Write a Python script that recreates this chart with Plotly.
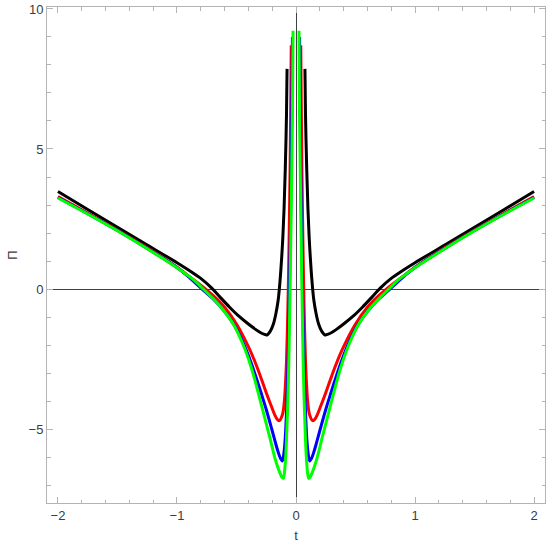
import plotly.graph_objects as go

# Right half of each curve (t > 0); the left half is the mirror image
t_black = [0.075, 0.08, 0.09, 0.1, 0.11, 0.12, 0.134, 0.15, 0.17, 0.19, 0.215, 0.244, 0.27, 0.3, 0.34,
           0.4, 0.48, 0.56, 0.64, 0.71, 0.8, 0.9, 1.0, 1.25, 1.5, 1.75, 2.0]
p_black = [7.86, 6.2, 4.3, 2.9, 1.9, 1.15, 0.3, -0.4, -0.9, -1.25, -1.5, -1.64, -1.61, -1.55, -1.44,
           -1.25, -0.97, -0.64, -0.28, 0.04, 0.38, 0.67, 0.94, 1.57, 2.2, 2.84, 3.48]

t_red = [0.04, 0.045, 0.05, 0.055, 0.06, 0.065, 0.072, 0.08, 0.09, 0.1, 0.115, 0.14, 0.16, 0.18, 0.21,
         0.25, 0.29, 0.34, 0.4, 0.5, 0.6, 0.7, 0.8, 0.9, 1.0, 1.25, 1.5, 1.75, 2.0]
p_red = [8.7, 6.2, 4.2, 2.6, 1.2, 0.0, -1.4, -2.6, -3.5, -4.1, -4.5, -4.7, -4.64, -4.48, -4.15,
         -3.7, -3.22, -2.65, -2.06, -1.25, -0.65, -0.22, 0.14, 0.46, 0.78, 1.47, 2.11, 2.71, 3.3]

t_blue = [0.03, 0.035, 0.04, 0.045, 0.05, 0.055, 0.062, 0.07, 0.08, 0.09, 0.1, 0.115, 0.13, 0.15, 0.175,
          0.205, 0.25, 0.29, 0.33, 0.38, 0.44, 0.52, 0.6, 0.7, 0.8, 0.9, 1.0, 1.25, 1.5, 1.75, 2.0]
p_blue = [9.0, 6.3, 4.3, 2.7, 1.3, 0.0, -1.7, -3.2, -4.4, -5.3, -5.8, -6.14, -6.05, -5.82, -5.45,
          -4.98, -4.3, -3.75, -3.22, -2.6, -1.95, -1.28, -0.8, -0.34, 0.04, 0.43, 0.77, 1.45, 2.09, 2.69, 3.27]

t_green = [0.025, 0.03, 0.035, 0.04, 0.045, 0.05, 0.055, 0.06, 0.07, 0.08, 0.09, 0.1, 0.107, 0.115, 0.13,
           0.15, 0.176, 0.2, 0.22, 0.246, 0.29, 0.33, 0.38, 0.443, 0.52, 0.611, 0.7, 0.78, 0.85, 0.92,
           1.0, 1.25, 1.5, 1.75, 2.0]
p_green = [9.22, 6.3, 4.5, 2.9, 1.4, 0.0, -1.3, -2.5, -4.2, -5.4, -6.2, -6.65, -6.76, -6.74, -6.62,
           -6.4, -6.05, -5.65, -5.3, -4.88, -4.15, -3.5, -2.75, -2.0, -1.3, -0.75, -0.33, 0.0, 0.29, 0.52,
           0.76, 1.44, 2.08, 2.68, 3.25]

x_ticks = [-2, -1, 0, 1, 2]
y_ticks = [-5, 0, 5, 10]

FRAME = "#b4b4b4"
TEXT = "#3c3c3c"
FONT = "Liberation Sans, Arial"


def both_sides(ts, ps):
    """Mirror the right half onto t < 0, with a gap at the singularity."""
    xs = [-t for t in reversed(ts)] + [None] + list(ts)
    ys = list(reversed(ps)) + [None] + list(ps)
    return xs, ys


def minus(v):
    return str(v).replace("-", "\u2212")


fig = go.Figure()
for ts, ps, color in [(t_black, p_black, "black"),
                      (t_red, p_red, "#ff0000"),
                      (t_blue, p_blue, "#0000ff"),
                      (t_green, p_green, "#00ff00")]:
    xs, ys = both_sides(ts, ps)
    fig.add_trace(go.Scatter(x=xs, y=ys, mode="lines", connectgaps=False,
                             line=dict(color=color, width=3, shape="spline", smoothing=1.0),
                             showlegend=False, hoverinfo="skip"))

axis_common = dict(showline=True, mirror="ticks", linecolor=FRAME, linewidth=1,
                   ticks="inside", ticklen=6, tickcolor=FRAME, tickwidth=1,
                   showgrid=False, zeroline=True, zerolinecolor="#404040", zerolinewidth=1,
                   automargin=False,
                   tickfont=dict(family=FONT, size=13, color=TEXT),
                   title_font=dict(family=FONT, size=13, color=TEXT))

fig.update_xaxes(range=[-2.092, 2.092], tickvals=x_ticks, ticktext=[minus(v) for v in x_ticks],
                 minor=dict(ticks="inside", ticklen=3.5, tickcolor=FRAME, dtick=0.2, tick0=0, showgrid=False),
                 title=dict(text="t", standoff=9), **axis_common)
fig.update_yaxes(range=[-7.64, 10.07], tickvals=y_ticks, ticktext=[minus(v) for v in y_ticks],
                 minor=dict(ticks="inside", ticklen=3.5, tickcolor=FRAME, dtick=1, tick0=0, showgrid=False),
                 title=dict(text="\u03a0", standoff=8), **axis_common)

fig.update_layout(width=550, height=547, margin=dict(l=47, r=5, t=7, b=44),
                  plot_bgcolor="white", paper_bgcolor="white")

# the page body has a default 8px margin; drop it so the figure fills the window
fig.write_html("out.html", config={"displayModeBar": False},
               post_script="document.body.style.margin = '0';")
